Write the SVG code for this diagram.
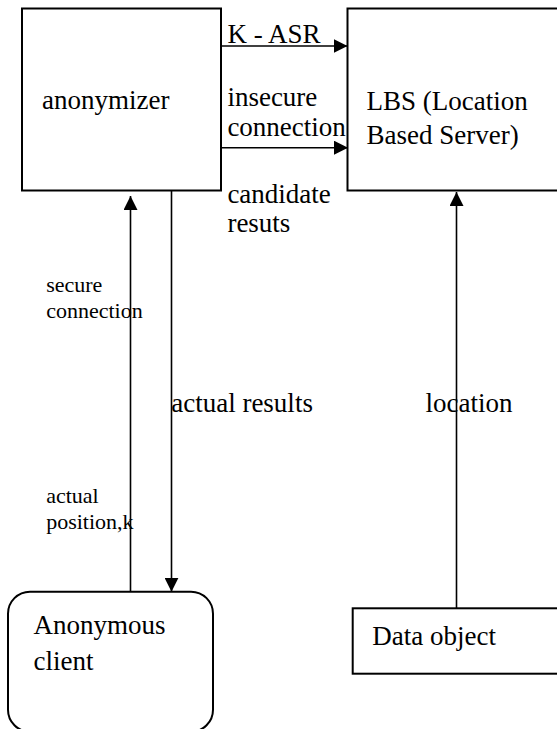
<svg xmlns="http://www.w3.org/2000/svg" width="557" height="729" viewBox="0 0 557 729">
<style>
.box{fill:#fff;stroke:#000;stroke-width:2}
.ln{fill:none;stroke:#000;stroke-width:1.6}
.t{font-family:'Liberation Serif','DejaVu Serif',serif;font-size:27px;fill:#000}
.s{font-family:'Liberation Serif','DejaVu Serif',serif;font-size:22px;fill:#000}
</style>
<defs>
<marker id="ah" markerUnits="userSpaceOnUse" markerWidth="14" markerHeight="14" refX="14" refY="7" orient="auto">
<path d="M0,0 L14,7 L0,14 z" fill="#000"/>
</marker>
</defs>
<rect width="557" height="729" fill="#fff"/>
<g id="anonymizer">
<rect class="box" x="22" y="8.5" width="199" height="182"/>
<text class="t" x="42" y="108.5">anonymizer</text>
</g>
<g id="lbs">
<rect class="box" x="347.5" y="8.5" width="215" height="182"/>
<text class="t" x="366.5" y="109.5">LBS (Location</text>
<text class="t" x="366.5" y="144">Based Server)</text>
</g>
<g id="client">
<rect class="box" x="8" y="591.7" width="205" height="140" rx="22" ry="22"/>
<text class="t" x="33.5" y="634">Anonymous</text>
<text class="t" x="33.5" y="670">client</text>
</g>
<g id="dataobject">
<rect class="box" x="352.7" y="608.3" width="210" height="65.4"/>
<text class="t" x="372.3" y="645">Data object</text>
</g>
<g id="connectors">
<line class="ln" x1="221" y1="46" x2="347.5" y2="46" marker-end="url(#ah)"/>
<line class="ln" x1="221" y1="147.7" x2="348" y2="147.7" marker-end="url(#ah)"/>
<line class="ln" x1="130.5" y1="591.7" x2="130.5" y2="196" marker-end="url(#ah)"/>
<line class="ln" x1="171.5" y1="190.7" x2="171.5" y2="591.7" marker-end="url(#ah)"/>
<line class="ln" x1="456.5" y1="608.3" x2="456.5" y2="192" marker-end="url(#ah)"/>
<text class="t" x="227.4" y="42.7">K - ASR</text>
<text class="t" x="227.4" y="106">insecure</text>
<text class="t" x="227.4" y="136">connection</text>
<text class="t" x="227.4" y="202.7">candidate</text>
<text class="t" x="227.4" y="232.3">resuts</text>
<text class="s" x="46.2" y="291.7">secure</text>
<text class="s" x="46.2" y="318.3">connection</text>
<text class="t" x="171.2" y="412.3">actual results</text>
<text class="t" x="425.6" y="412.3">location</text>
<text class="s" x="46.2" y="502.7">actual</text>
<text class="s" x="46.2" y="529.3">position,k</text>
</g>
</svg>
